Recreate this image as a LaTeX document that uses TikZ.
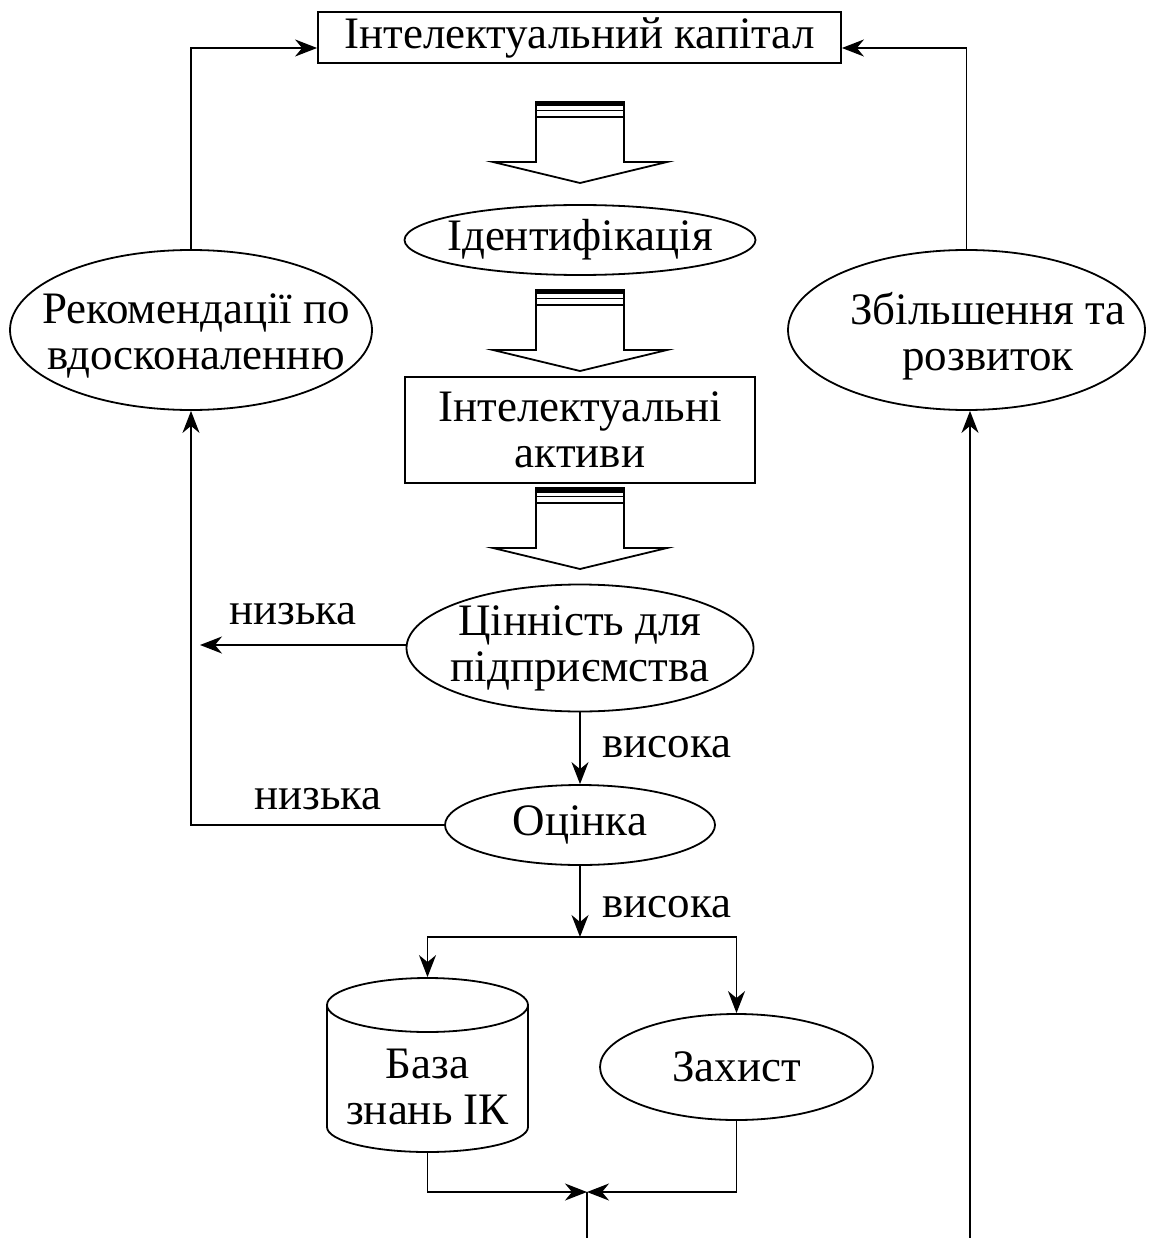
\documentclass[tikz,border=0pt]{standalone}
\usepackage{fontspec}
\setmainfont{Liberation Serif}
\usetikzlibrary{shapes.geometric,arrows.meta}
\tikzset{
  every picture/.style={line width=1.8pt},
  lbl/.style={font=\fontsize{45}{46}\selectfont, align=center, inner sep=0pt},
  box/.style={draw, rectangle, inner sep=0pt, font=\fontsize{45}{46}\selectfont, align=center},
  oval/.style={draw, ellipse, inner sep=-40pt, font=\fontsize{45}{46}\selectfont, align=center},
  arr/.style={-{Stealth[length=22pt,width=17pt,inset=7pt]}},
  pics/blockarrow/.style={code={
    \draw[line width=1.8pt] (-44,15) -- (-44,60) -- (-87,60) -- (0,81) -- (87,60) -- (44,60) -- (44,15);
    \draw[line width=1.8pt] (-44,0) rectangle (44,15);
    \fill (-44,0) rectangle (44,4.5);
    \draw[line width=1.5pt] (-44,8.5) -- (44,8.5);
  }}
}
\begin{document}
\begin{tikzpicture}[x=1pt,y=-1pt]
\useasboundingbox (0,0) rectangle (1150,1238);
% nodes
\node[box, minimum width=523pt, minimum height=51pt] (ic) at (579.5,37.5) {Інтелектуальний капітал};
\node[oval, minimum width=351pt, minimum height=70pt] (id) at (580,240) {Ідентифікація};
\node[box, minimum width=350pt, minimum height=106pt] (ia) at (580,430) {Інтелектуальні\\активи};
\node[oval, minimum width=347pt, minimum height=127pt] (val) at (580,648) {Цінність для\\підприємства};
\node[oval, minimum width=270pt, minimum height=80pt] (est) at (580,825) {Оцінка};
\node[oval, minimum width=362pt, minimum height=160pt] (rec) at (191,330) {};
\node[lbl] at (196,336) {Рекомендації по\\вдосконаленню};
\node[oval, minimum width=357pt, minimum height=160pt] (inc) at (966.5,330) {};
\node[lbl] at (988,336) {Збільшення та\\розвиток};
\node[oval, minimum width=273pt, minimum height=106pt] (prot) at (736.5,1067) {Захист};
% cylinder
\node[inner sep=0pt, minimum width=201pt, minimum height=174pt] (db) at (427.5,1065) {};
\draw (327,1005) -- (327,1127) arc[start angle=180, end angle=360, x radius=100.5pt, y radius=25pt] -- (528,1005);
\draw (427.5,1005) ellipse[x radius=100.5pt, y radius=27pt];
\node[lbl] at (427.5,1087) {База\\знань ІК};
% block arrows
\pic at (580,102) {blockarrow};
\pic at (580,290) {blockarrow};
\pic at (580,488) {blockarrow};
% connectors
\coordinate (lowA) at (200,645);
\draw[arr] (val.west |- 0,645) -- (lowA);
\node[lbl] at (293,614) {низька};
\draw[arr] (val.south) -- (est.north);
\node[lbl] at (667,747) {висока};
\draw[arr] (est.west) -- (191,825) -- (rec.south);
\node[lbl] at (318,799) {низька};
\draw[arr] (rec.north) -- (191,48) -- (ic.west |- 0,48);
\draw[arr] (inc.north) -- (966.5,48) -- (ic.east |- 0,48);
\coordinate (bot) at (970,1238);
\draw[arr] (bot) -- (inc.south -| bot);
\coordinate (split) at (580,937);
\draw[arr] (est.south) -- (split);
\node[lbl] at (667,907) {висока};
\draw[arr] (split) -- (427.5,937) -- (db.north);
\draw[arr] (split) -- (736.5,937) -- (prot.north);
\coordinate (join) at (587,1192);
\coordinate (out) at (587,1238);
\draw[arr] (db.south) -- (427.5,1192) -- (join);
\draw[arr] (prot.south) -- (736.5,1192) -- (join);
\draw (join) -- (out);
\end{tikzpicture}
\end{document}
